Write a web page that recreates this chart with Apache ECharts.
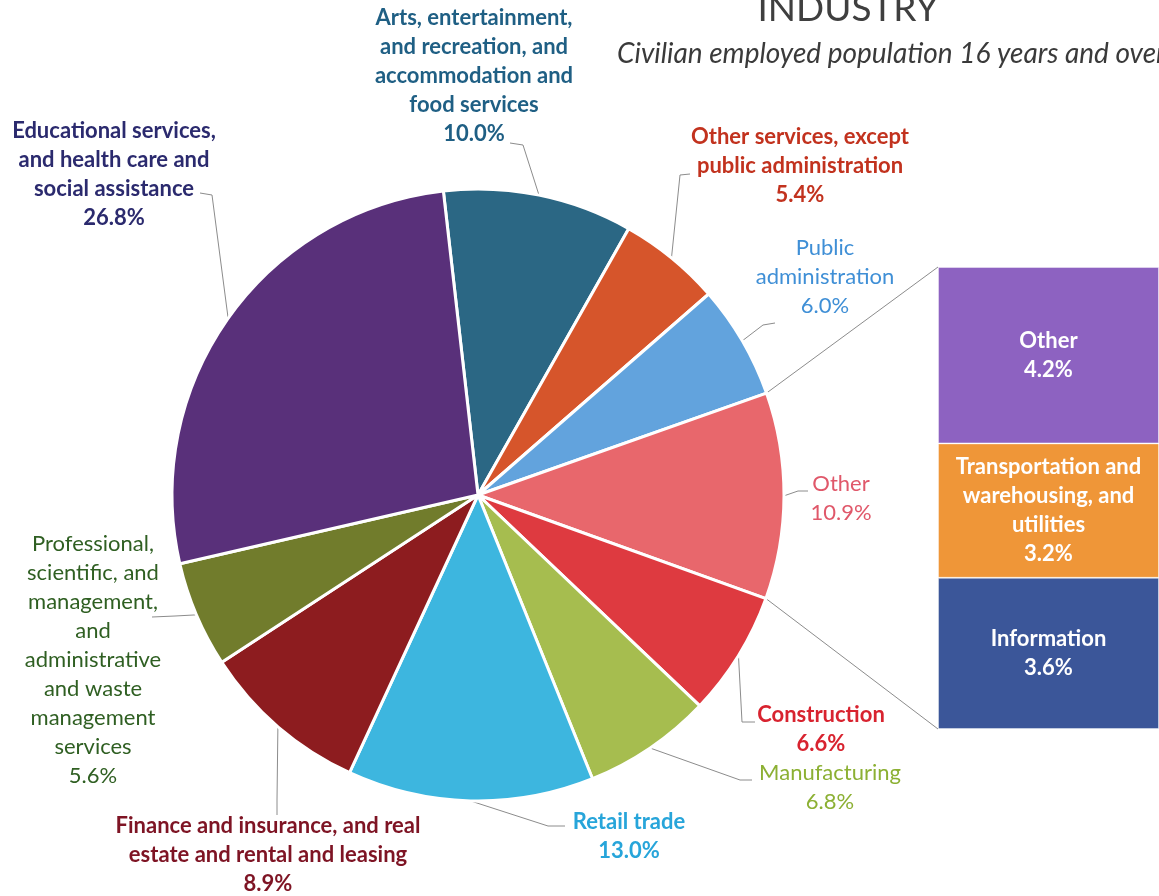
<!DOCTYPE html>
<html>
<head>
<meta charset="utf-8">
<title>Industry</title>
<script src="https://cdn.jsdelivr.net/npm/echarts@6/dist/echarts.min.js"></script>
<style>
  html, body { margin: 0; padding: 0; background: #ffffff; overflow: hidden; }
  #chart { width: 1159px; height: 896px; }
</style>
</head>
<body>
<div id="chart"></div>
<script>
// Industry shares of the civilian employed population (percent), clockwise from the top
const sectors = [
  'Arts, entertainment,\nand recreation, and\naccommodation and\nfood services',
  'Other services, except\npublic administration',
  'Public\nadministration',
  'Other',
  'Construction',
  'Manufacturing',
  'Retail trade',
  'Finance and insurance, and real\nestate and rental and leasing',
  'Professional,\nscientific, and\nmanagement,\nand\nadministrative\nand waste\nmanagement\nservices',
  'Educational services,\nand health care and\nsocial assistance'
];
const shares = [10.0, 5.4, 6.0, 10.9, 6.6, 6.8, 13.0, 8.9, 5.6, 26.8];

// Breakdown of the "Other" slice
const otherParts = ['Other', 'Transportation and\nwarehousing, and\nutilities', 'Information'];
const otherShares = [4.2, 3.2, 3.6];

// Styling
const sliceColors = ['#2b6784', '#d6552b', '#62a3dd', '#e8676c', '#de3a40',
                     '#a6bd4f', '#3db6df', '#8d1c1f', '#717c2c', '#59307a'];
const labelColors = ['#1f5f84', '#c2321e', '#3f8fd6', '#e0586a', '#d8232f',
                     '#8cb033', '#27a5da', '#7e1424', '#2f5f22', '#2b2a6e'];
const labelWeights = ['bold', 'bold', 'normal', 'normal', 'bold',
                      'normal', 'bold', 'bold', 'normal', 'bold'];
const otherColors = ['#8d62c1', '#ef9638', '#3b5699'];

// Label anchors (centre x, top y) and leader-line elbow/end points
const labelSpots = [
  [474, 3], [800, 122], [825, 233], [841, 469], [821, 700],
  [830, 758], [629, 807], [268, 811], [93, 529], [114, 116]
];
const leaderBends = [
  [[523, 145], [510, 143]],
  [[680, 175], [690, 174]],
  [[763, 325], [775, 323]],
  [[798, 491], [808, 491]],
  [[742, 722], [755, 722]],
  [[740, 780], [752, 780]],
  [[548, 826], [565, 826]],
  [[277, 800], [277, 815]],
  [[175, 616], [152, 617]],
  [[212, 195], [200, 193]]
];

const FONT = 'Lato, "Open Sans", sans-serif';
const LABEL_SIZE = 22;

const chart = echarts.init(document.getElementById('chart'), null, { renderer: 'canvas' });

const pieData = sectors.map((name, i) => ({
  name: name,
  value: shares[i],
  itemStyle: { color: sliceColors[i] },
  label: { color: labelColors[i], fontWeight: labelWeights[i] }
}));

const barSeries = otherParts.map((name, i) => ({
  type: 'bar',
  name: name,
  stack: 'other',
  xAxisIndex: 0,
  yAxisIndex: 0,
  barWidth: '100%',
  data: [otherShares[i]],
  itemStyle: { color: otherColors[i], borderColor: 'rgba(255,255,255,0.4)', borderWidth: 1 },
  label: {
    show: true,
    position: 'inside',
    color: '#ffffff',
    fontFamily: FONT,
    fontWeight: 'bold',
    fontSize: LABEL_SIZE,
    lineHeight: 29,
    align: 'center',
    formatter: () => name + '\n' + otherShares[i].toFixed(1) + '%'
  },
  emphasis: { disabled: true },
  silent: true
}));

chart.setOption({
  animation: false,
  backgroundColor: '#ffffff',
  grid: { left: 938, top: 267, width: 224, height: 462 },
  xAxis: { type: 'category', data: [''], show: false },
  yAxis: { type: 'value', min: 0, max: 11.0, inverse: true, show: false },
  graphic: [
    {
      id: 'title', type: 'text', x: 848, y: 9,
      style: { text: 'INDUSTRY', fill: '#3f3f3f', font: '37px ' + FONT, textAlign: 'center', textVerticalAlign: 'middle' }
    },
    {
      id: 'subtitle', type: 'text', x: 617, y: 54,
      style: { text: 'Civilian employed population 16 years and over', fill: '#3a3a3a', font: 'italic 28px ' + FONT, textAlign: 'left', textVerticalAlign: 'middle' }
    }
  ],
  series: [
    {
      type: 'pie',
      center: [478, 495],
      radius: 306,
      startAngle: 96.5,
      clockwise: true,
      avoidLabelOverlap: false,
      data: pieData,
      itemStyle: { borderColor: '#ffffff', borderWidth: 3 },
      label: {
        show: true,
        position: 'outside',
        fontFamily: FONT,
        fontSize: LABEL_SIZE,
        lineHeight: 29,
        align: 'center',
        formatter: (p) => p.name + '\n' + p.value.toFixed(1) + '%'
      },
      labelLine: { show: true, length: 10, length2: 10, lineStyle: { color: '#8c8c8c', width: 1 } },
      labelLayout: (params) => {
        const i = params.dataIndex;
        const spot = labelSpots[i];
        const start = params.labelLinePoints ? params.labelLinePoints[0] : leaderBends[i][0];
        return {
          x: spot[0],
          y: spot[1],
          align: 'center',
          verticalAlign: 'top',
          labelLinePoints: [start, leaderBends[i][0], leaderBends[i][1]]
        };
      },
      emphasis: { disabled: true },
      silent: true
    }
  ].concat(barSeries)
});

// Connector lines from the "Other" slice to its breakdown bar
function drawConnectors() {
  const model = chart.getModel();
  const pieLayout = model.getSeriesByIndex(0).getData().getItemLayout(3);
  const topBar = model.getSeriesByIndex(1).getData().getItemLayout(0);
  const bottomBar = model.getSeriesByIndex(otherParts.length).getData().getItemLayout(0);
  const ends = [pieLayout.startAngle, pieLayout.endAngle].map((ang) => [
    pieLayout.cx + pieLayout.r * Math.cos(ang),
    pieLayout.cy + pieLayout.r * Math.sin(ang)
  ]).sort((p, q) => p[1] - q[1]);
  const barTop = Math.min(topBar.y, topBar.y + topBar.height);
  const barBottom = Math.max(bottomBar.y, bottomBar.y + bottomBar.height);
  const barLeft = Math.min(topBar.x, topBar.x + topBar.width);
  chart.setOption({
    graphic: [
      {
        id: 'connectorTop', type: 'line', silent: true,
        shape: { x1: ends[0][0], y1: ends[0][1], x2: barLeft, y2: barTop },
        style: { stroke: '#8c8c8c', lineWidth: 1 }
      },
      {
        id: 'connectorBottom', type: 'line', silent: true,
        shape: { x1: ends[1][0], y1: ends[1][1], x2: barLeft, y2: barBottom },
        style: { stroke: '#8c8c8c', lineWidth: 1 }
      }
    ]
  });
}
drawConnectors();
</script>
</body>
</html>
